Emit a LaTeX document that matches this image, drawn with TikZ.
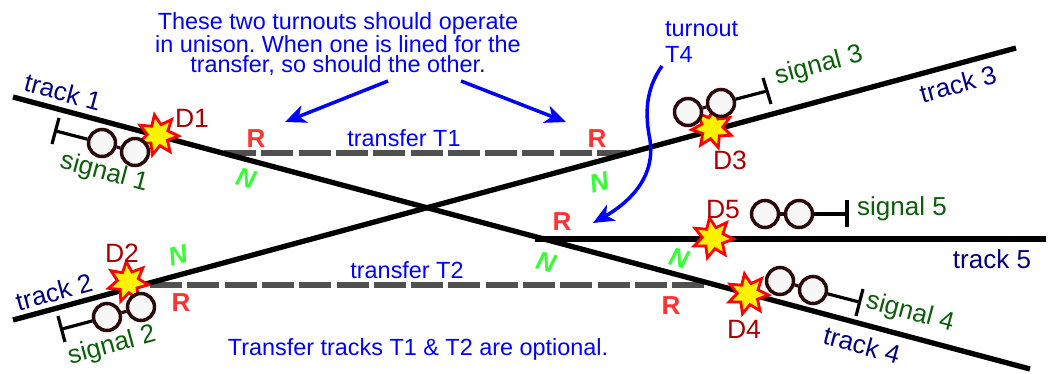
\documentclass[tikz,border=0pt]{standalone}
\usepackage{fontspec}
\setmainfont{Liberation Sans}
\usetikzlibrary{shapes.geometric,arrows.meta}
\definecolor{trk}{HTML}{000080}
\definecolor{sig}{HTML}{0B5F0B}
\definecolor{dred}{HTML}{AA0000}
\definecolor{rred}{HTML}{FF3333}
\definecolor{ngreen}{HTML}{33FF33}
\definecolor{note}{HTML}{0000FF}
\definecolor{xfergrey}{HTML}{505050}
\definecolor{lamp}{HTML}{2B0A0A}
\tikzset{
 x=1pt,y=-1pt,
 tracklbl/.style={font=\fontsize{26}{30}\selectfont,inner sep=0pt,text=trk},
 siglbl/.style={font=\fontsize{26}{30}\selectfont,inner sep=0pt,text=sig},
 derail/.style={font=\fontsize{26.5}{30}\selectfont,inner sep=0pt,text=dred},
 notelbl/.style={font=\fontsize{23.4}{20.5}\selectfont\frenchspacing,inner sep=0pt,text=note},
 rlbl/.style={font=\fontsize{26}{30}\selectfont\bfseries,text=rred,inner sep=0pt},
 nlbl/.style={font=\fontsize{26}{30}\selectfont\bfseries\itshape,text=ngreen,inner sep=0pt},
 trackline/.style={line width=5.3pt,draw=black},
 xfer/.style={line width=5.3pt,draw=xfergrey,dash pattern=on 32pt off 5.3pt},
 stem/.style={line width=3.2pt,draw=black},
 lamplink/.style={line width=3.2pt,draw=lamp},
 lampnode/.style={circle,draw=lamp,fill=white!97!black,line width=3.5pt,minimum size=27pt,inner sep=0pt},
 burst/.style={star,star points=7,star point ratio=1.9,minimum size=41pt,inner sep=0pt,draw=red,fill=yellow,line width=2.8pt},
 notearrow/.style={line width=3.5pt,draw=note,-{Stealth[length=21pt,width=18pt,inset=6pt]}},
}
\begin{document}
\begin{tikzpicture}
\useasboundingbox (0,0) rectangle (1052,373);
% track end points
\coordinate (t1a) at (13,97);
\coordinate (t1b) at (1030,369);
\coordinate (t2a) at (13,320);
\coordinate (t2b) at (1016,48);
\coordinate (t5a) at (535,239);
\coordinate (t5b) at (1046,239);
\coordinate (x1a) at (224,153);
\coordinate (x1b) at (627,153);
\coordinate (x2a) at (150,285);
\coordinate (x2b) at (705,285);
\draw[xfer] (x1a) -- (x1b);
\draw[xfer] (x2a) -- (x2b);
\draw[trackline] (t1a) -- (t1b);
\draw[trackline] (t2a) -- (t2b);
\draw[trackline] (t5a) -- (t5b);
% derails
\node[burst,rotate=10] (d1) at (158,135) {};
\node[burst,rotate=5] (d2) at (128,282) {};
\node[burst,rotate=-8] (d3) at (712,128) {};
\node[burst,rotate=10] (d5) at (713,238) {};
\node[burst,rotate=10] (d4) at (748,294) {};
% signal 1
\coordinate (b1a) at (59,118); \coordinate (b1b) at (52,144); \coordinate (b1c) at (56,131);
\node[lampnode] (s1a) at (102,143) {};
\node[lampnode] (s1b) at (135,152) {};
\draw[stem] (b1a) -- (b1b);
\draw[stem] (b1c) -- (s1a);
\draw[lamplink] (s1a) -- (s1b);
% signal 2
\coordinate (b2a) at (58,316); \coordinate (b2b) at (65,342); \coordinate (b2c) at (62,329);
\node[lampnode] (s2a) at (107,317) {};
\node[lampnode] (s2b) at (141,307) {};
\draw[stem] (b2a) -- (b2b);
\draw[stem] (b2c) -- (s2a);
\draw[lamplink] (s2a) -- (s2b);
% signal 3
\coordinate (b3a) at (763,78); \coordinate (b3b) at (771,104); \coordinate (b3c) at (767,91);
\node[lampnode] (s3a) at (688,112) {};
\node[lampnode] (s3b) at (721,103) {};
\draw[stem] (b3a) -- (b3b);
\draw[stem] (b3c) -- (s3b);
\draw[lamplink] (s3a) -- (s3b);
% signal 5
\coordinate (b5a) at (847,200); \coordinate (b5b) at (847,227); \coordinate (b5c) at (847,214);
\node[lampnode] (s5a) at (765,214) {};
\node[lampnode] (s5b) at (799,214) {};
\draw[stem] (b5a) -- (b5b);
\draw[stem] (b5c) -- (s5b);
\draw[lamplink] (s5a) -- (s5b);
% signal 4
\coordinate (b4a) at (863,289); \coordinate (b4b) at (856,316); \coordinate (b4c) at (859,302);
\node[lampnode] (s4a) at (780,281) {};
\node[lampnode] (s4b) at (813,290) {};
\draw[stem] (b4a) -- (b4b);
\draw[stem] (b4c) -- (s4b);
\draw[lamplink] (s4a) -- (s4b);
\node[derail] (ld1) at (192,118) {D1};
\node[derail] (ld2) at (122,253) {D2};
\node[derail] (ld3) at (730,160) {D3};
\node[derail] (ld5) at (723,210) {D5};
\node[derail] (ld4) at (744,329) {D4};
% track labels
\node[tracklbl,rotate=-15] (lt1) at (63,92) {track 1};
\node[tracklbl,rotate=15] (lt2) at (54,292) {track 2};
\node[tracklbl,rotate=15] (lt3) at (958,84) {track 3};
\node[tracklbl,rotate=-15] (lt4) at (862,345) {track 4};
\node[tracklbl] (lt5) at (992,259) {track 5};
% signal labels
\node[siglbl,rotate=-15] (ls1) at (104,173) {signal 1};
\node[siglbl,rotate=15] (ls2) at (112,346) {signal 2};
\node[siglbl,rotate=15] (ls3) at (819,66) {signal 3};
\node[siglbl] (ls5) at (902,209) {signal 5};
\node[siglbl,rotate=-15] (ls4) at (910,313) {signal 4};
% R and N
\node[rlbl] (r1) at (256,139) {R};
\node[rlbl] (r2) at (597,139) {R};
\node[rlbl] (r3) at (181,303) {R};
\node[rlbl] (r4) at (671,306) {R};
\node[rlbl] (r5) at (562,222) {R};
\node[nlbl,rotate=-15] (n1) at (246,178) {N};
\node[nlbl,rotate=15] (n2) at (599,182) {N};
\node[nlbl,rotate=15] (n3) at (178,255) {N};
\node[nlbl,rotate=-15] (n4) at (546,262) {N};
\node[nlbl,rotate=-15] (n5) at (679,258) {N};
% notes
\node[notelbl,align=center] (top) at (338,44) {These two turnouts should operate\\in unison. When one is lined for the\\transfer, so should the other.};
\node[notelbl,align=left,anchor=west] (t4) at (665,42) {turnout\\[5pt]T4};
\node[notelbl] (tr1) at (404,138) {transfer T1};
\node[notelbl] (tr2) at (407,270) {transfer T2};
\node[notelbl] (opt) at (418,349) {Transfer tracks T1 \& T2 are optional.};
% arrows
\coordinate (a1s) at (388,81); \coordinate (a1e) at (285,122);
\coordinate (a2s) at (461,81); \coordinate (a2e) at (566,122);
\coordinate (a3s) at (662,66); \coordinate (a3e) at (593,223);
\draw[notearrow] (a1s) -- (a1e);
\draw[notearrow] (a2s) -- (a2e);
\draw[notearrow] (a3s) .. controls (645,90) and (645,115) .. (650,140) .. controls (656,180) and (625,205) .. (a3e);
\end{tikzpicture}
\end{document}
